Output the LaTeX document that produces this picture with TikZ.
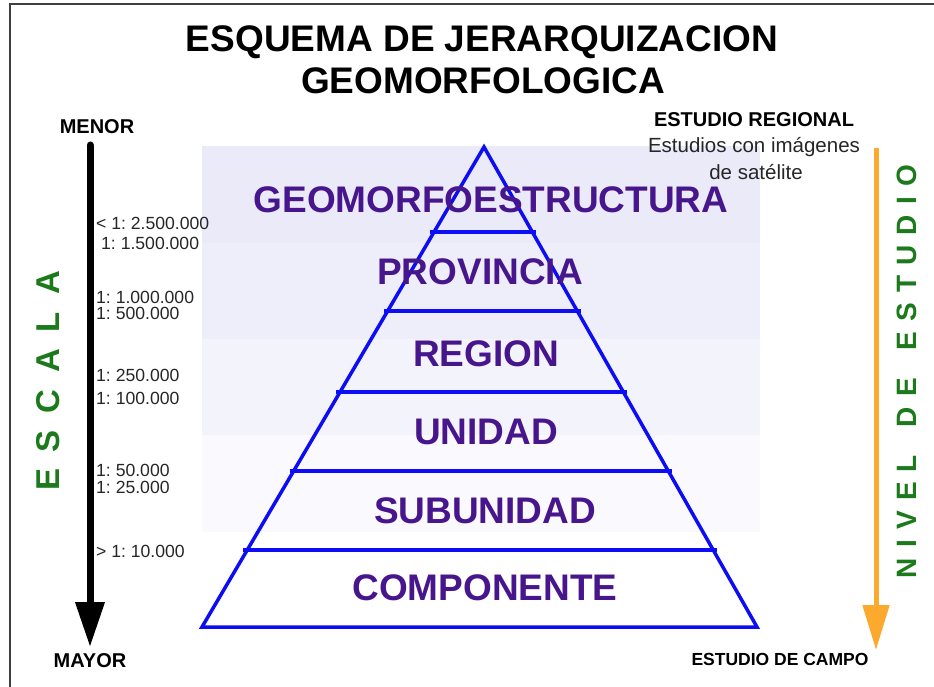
\documentclass[tikz,border=0pt]{standalone}
\usepackage{fontspec}
\setmainfont{Liberation Sans}
\frenchspacing
\usetikzlibrary{arrows.meta,calc}

\definecolor{pyrblue}{RGB}{12,12,245}
\definecolor{labpurple}{RGB}{72,22,140}
\definecolor{darkgreen}{RGB}{28,122,28}
\definecolor{arrorange}{RGB}{251,170,45}
\definecolor{bandA}{RGB}{234,234,248}
\definecolor{bandB}{RGB}{238,238,250}
\definecolor{bandC}{RGB}{243,243,252}
\definecolor{bandD}{RGB}{249,249,254}

\begin{document}
\begin{tikzpicture}[x=1pt,y=-1pt,
  title node/.style={font=\fontsize{37}{40}\selectfont\bfseries,inner sep=0pt,anchor=base},
  level node/.style={font=\fontsize{37}{40}\selectfont\bfseries,text=labpurple,inner sep=0pt},
  scale node/.style={anchor=west,font=\fontsize{17.6}{20}\selectfont,text=black!85,inner sep=0pt},
  head node/.style={font=\fontsize{20}{24}\selectfont\bfseries,inner sep=0pt,anchor=base},
  spaced letter/.style={rotate=90,font=\bfseries,text=darkgreen,inner sep=0pt},
  pyr line/.style={draw=pyrblue,line width=3.5pt}]

  \useasboundingbox (0,0) rectangle (934,687);

  % frame
  \draw[line width=1.5pt,black!75] (10,687) -- (10,4) -- (934,4);

  % shaded bands behind the pyramid
  \fill[bandA] (202,146) rectangle (760,243);
  \fill[bandB] (202,243) rectangle (760,339);
  \fill[bandC] (202,339) rectangle (760,435);
  \fill[bandD] (202,435) rectangle (760,532);

  % title
  \node[title node] (title1) at (482,52) {ESQUEMA DE JERARQUIZACION};
  \node[title node] (title2) at (483,94) {GEOMORFOLOGICA};

  % pyramid
  \coordinate (apex) at (484,147);
  \coordinate (baseL) at (202,627);
  \coordinate (baseR) at (757,627);
  \draw[pyr line] (apex) -- (baseL) -- (baseR) -- cycle;
  \foreach \t in {0.177,0.342,0.510,0.675,0.840}
    \draw[pyr line,shorten <=-4pt,shorten >=-4pt]
      ($(apex)!\t!(baseL)$) -- ($(apex)!\t!(baseR)$);

  \node[level node] (geo)  at (491,200) {GEOMORFOESTRUCTURA};
  \node[level node] (prov) at (480,272) {PROVINCIA};
  \node[level node] (reg)  at (486,354) {REGION};
  \node[level node] (uni)  at (486,432) {UNIDAD};
  \node[level node] (sub)  at (485,511) {SUBUNIDAD};
  \node[level node] (comp) at (485,588) {COMPONENTE};

  % scale axis
  \node[head node] (menor) at (97,134) {MENOR};
  \node[head node] (mayor) at (90,667) {MAYOR};
  \coordinate (escTop) at (90,145);
  \coordinate (escTip) at (90,647);
  \draw[line width=7pt,line cap=round,-{Triangle[length=45pt,width=28pt]}] (escTop) -- (escTip);

  \foreach \ch/\yy [count=\i] in {E/479,S/441.5,C/402,A/361,L/322.5,A/283}
    \node[spaced letter,font=\fontsize{33}{36}\selectfont\bfseries] (esc\i) at (48,\yy) {\ch};

  \foreach \txt/\yy/\xx [count=\i] in {{< 1: 2.500.000}/223.5/96,{1: 1.500.000}/243.5/101,
      {1: 1.000.000}/297/96,{1: 500.000}/313.5/96,{1: 250.000}/375/96,{1: 100.000}/398.5/96,
      {1: 50.000}/470/96,{1: 25.000}/487.5/96,{> 1: 10.000}/551.5/96}
    \node[scale node] (sc\i) at (\xx,\yy) {\txt};

  % study level axis
  \node[head node] (regTitle) at (754,127) {ESTUDIO REGIONAL};
  \node[inner sep=0pt,anchor=base,font=\fontsize{20.5}{24}\selectfont,text=black!85] (regLine1) at (754,153) {Estudios con imágenes};
  \node[inner sep=0pt,anchor=base,font=\fontsize{20.5}{24}\selectfont,text=black!85] (regLine2) at (756,180) {de satélite};
  \node[head node,font=\fontsize{17.5}{20}\selectfont\bfseries] (campo) at (780,665) {ESTUDIO DE CAMPO};

  \coordinate (nivTop) at (876,148);
  \coordinate (nivTip) at (876,650);
  \draw[arrorange,line width=5pt,-{Triangle[length=45pt,width=26pt]}] (nivTop) -- (nivTip);

  \foreach \ch/\yy [count=\i] in {N/568,I/544,V/520.5,E/491.5,L/463.5,D/417,E/387.5,
      E/341,S/312,T/284,U/255,D/225,I/201,O/176}
    \node[spaced letter,font=\fontsize{28}{32}\selectfont\bfseries] (niv\i) at (907,\yy) {\ch};
\end{tikzpicture}
\end{document}
